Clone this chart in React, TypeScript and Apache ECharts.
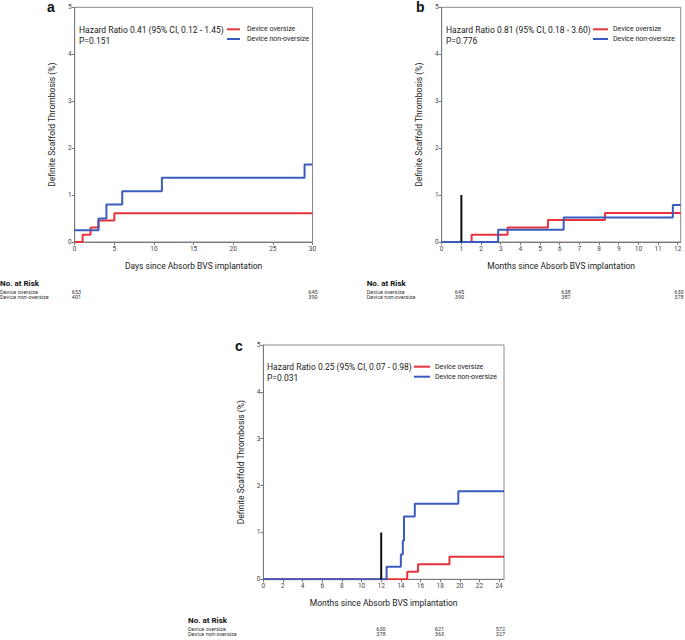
import React, { useEffect, useRef } from "react";
import * as echarts from "echarts";

// ---------- Data ----------
// Panel a (days 0-30)
const aOversizeT = [0, 1, 2, 3, 5, 30];
const aOversizeV = [0, 0.155, 0.31, 0.46, 0.61, 0.61];
const aNonT = [0, 3, 4, 6, 11, 29, 30];
const aNonV = [0.25, 0.5, 0.8, 1.08, 1.37, 1.65, 1.65];

// Panel b (months 0-12)
const bOversizeT = [0, 1.52, 3.35, 5.4, 8.3, 12.15];
const bOversizeV = [0, 0.155, 0.31, 0.47, 0.62, 0.62];
const bNonT = [0, 2.87, 6.2, 11.75, 12.15];
const bNonV = [0, 0.26, 0.52, 0.79, 0.79];
const bLandmark = [[1, 0], [1, 1]];

// Panel c (months 0-24)
const cOversizeT = [0, 14.65, 15.75, 18.95, 24.5];
const cOversizeV = [0, 0.16, 0.32, 0.48, 0.48];
const cNonT = [0, 12.55, 14.0, 14.2, 14.32, 15.42, 19.85, 24.5];
const cNonV = [0, 0.27, 0.53, 0.82, 1.34, 1.61, 1.88, 1.88];
const cLandmark = [[12, 0], [12, 1]];

// Ticks
const aXTicks = [0, 5, 10, 15, 20, 25, 30];
const bXTicks = [0, 1, 2, 3, 4, 5, 6, 7, 8, 9, 10, 11, 12];
const cXTicks = [0, 2, 4, 6, 8, 10, 12, 14, 16, 18, 20, 22, 24];
const yTicks = [0, 1, 2, 3, 4, 5];

// Annotations
const aHR = "Hazard Ratio 0.41 (95% CI, 0.12 - 1.45)";
const aP = "P=0.151";
const bHR = "Hazard Ratio 0.81 (95% CI, 0.18 - 3.60)";
const bP = "P=0.776";
const cHR = "Hazard Ratio 0.25 (95% CI, 0.07 - 0.98)";
const cP = "P=0.031";
const seriesNames = ["Device oversize", "Device non-oversize"];

// Risk tables
const aRiskOversize = [653, 645];
const aRiskNon = [401, 390];
const bRiskOversize = [645, 638, 630];
const bRiskNon = [390, 387, 378];
const cRiskOversize = [630, 621, 572];
const cRiskNon = [378, 363, 327];

const yName = "Definite Scaffold Thrombosis (%)";
const aXName = "Days since Absorb BVS implantation";
const bXName = "Months since Absorb BVS implantation";
const cXName = "Months since Absorb BVS implantation";

// ---------- Styling ----------
const RED = "#e8333c";
const BLUE = "#3a5cbf";
const FONT = "Roboto";
const AXIS_COLOR = "#7a7a7a";

const zip = (t: number[], v: number[]) => t.map((x, i) => [x, v[i]]);

export default function App() {
  const ref = useRef<HTMLDivElement>(null);
  useEffect(() => {
    if (!ref.current) return;
    const chart = echarts.init(ref.current, undefined, { renderer: "svg" });

    const grids = [
      { left: 74.7, top: 7.3, width: 237.8, height: 234.7 },
      { left: 441.7, top: 7.3, width: 239, height: 234.7 },
      { left: 263.3, top: 345, width: 240.7, height: 234.3 },
    ];
    const xMax = [30, 12.15, 24.5];
    const xTicks = [aXTicks, bXTicks, cXTicks];
    const xNames = [aXName, bXName, cXName];

    const xAxes = grids.map((_, i) => ({
      type: "value",
      gridIndex: i,
      min: 0,
      max: xMax[i],
      name: xNames[i],
      nameLocation: "middle",
      nameGap: 19,
      nameTextStyle: { fontFamily: FONT, fontSize: 8.5, color: "#1a1a1a" },
      axisLine: { show: true, lineStyle: { color: AXIS_COLOR, width: 1 } },
      axisTick: { show: true, length: 3, customValues: xTicks[i], lineStyle: { color: AXIS_COLOR } },
      axisLabel: { customValues: xTicks[i], fontFamily: FONT, fontSize: 6.5, color: "#444", margin: 3 },
      splitLine: { show: false },
    }));
    const yAxes = grids.map((_, i) => ({
      type: "value",
      gridIndex: i,
      min: 0,
      max: 5,
      interval: 1,
      name: yName,
      nameLocation: "middle",
      nameGap: 18,
      nameTextStyle: { fontFamily: FONT, fontSize: 8.5, color: "#1a1a1a" },
      axisLine: { show: true, lineStyle: { color: AXIS_COLOR, width: 1 } },
      axisTick: { show: true, length: 3, customValues: yTicks, lineStyle: { color: AXIS_COLOR } },
      axisLabel: { customValues: yTicks, fontFamily: FONT, fontSize: 6.5, color: "#444", margin: 3 },
      splitLine: { show: false },
    }));

    const step = (name: string, data: number[][], idx: number, color: string) => ({
      type: "line",
      name,
      xAxisIndex: idx,
      yAxisIndex: idx,
      data,
      step: "end",
      symbol: "none",
      showSymbol: false,
      lineStyle: { color, width: 2 },
      itemStyle: { color },
      z: 3,
    });
    const landmark = (data: number[][], idx: number) => ({
      type: "line",
      xAxisIndex: idx,
      yAxisIndex: idx,
      data,
      symbol: "none",
      lineStyle: { color: "#111", width: 2 },
      z: 4,
    });

    const series = [
      step(seriesNames[0], zip(aOversizeT, aOversizeV), 0, RED),
      step(seriesNames[1], zip(aNonT, aNonV), 0, BLUE),
      step(seriesNames[0], zip(bOversizeT, bOversizeV), 1, RED),
      step(seriesNames[1], zip(bNonT, bNonV), 1, BLUE),
      landmark(bLandmark, 1),
      step(seriesNames[0], zip(cOversizeT, cOversizeV), 2, RED),
      step(seriesNames[1], zip(cNonT, cNonV), 2, BLUE),
      landmark(cLandmark, 2),
    ];

    const txt = (text: string, x: number, y: number, size: number, opts: any = {}) => ({
      type: "text",
      x,
      y,
      silent: true,
      style: {
        text,
        fontFamily: opts.family || FONT,
        fontSize: size,
        fontWeight: opts.weight || "normal",
        fill: opts.fill || "#1a1a1a",
        align: opts.align || "left",
        verticalAlign: opts.valign || "middle",
      },
    });
    const seg = (x1: number, x2: number, y: number, color: string) => ({
      type: "line",
      silent: true,
      shape: { x1, y1: y, x2, y2: y },
      style: { stroke: color, lineWidth: 2 },
    });

    const panel = (
      letter: string,
      lx: number,
      ly: number,
      hr: string,
      p: string,
      hx: number,
      hy: number,
      py: number,
      legX1: number,
      legX2: number,
      legTx: number,
      legY1: number,
      legY2: number
    ) => [
      txt(letter, lx, ly, 14, { weight: "bold", family: "Liberation Sans", fill: "#111", valign: "top" }),
      txt(hr, hx, hy, 8.5),
      txt(p, hx, py, 8.5),
      seg(legX1, legX2, legY1, RED),
      seg(legX1, legX2, legY2, BLUE),
      txt(seriesNames[0], legTx, legY1, 7),
      txt(seriesNames[1], legTx, legY2, 7),
    ];

    const riskTable = (
      x: number,
      yHead: number,
      y1: number,
      y2: number,
      cols: number[],
      over: number[],
      non: number[]
    ) => {
      const els: any[] = [
        txt("No. at Risk", x, yHead, 8, { weight: "bold", fill: "#111" }),
        txt(seriesNames[0], x, y1, 5.5, { fill: "#333" }),
        txt(seriesNames[1], x, y2, 5.5, { fill: "#333" }),
      ];
      cols.forEach((cx, i) => {
        els.push(txt(String(over[i]), cx, y1, 5.5, { fill: "#333", align: "center" }));
        els.push(txt(String(non[i]), cx, y2, 5.5, { fill: "#333", align: "center" }));
      });
      return els;
    };

    const graphic = [
      ...panel("a", 47, 0, aHR, aP, 79, 29.5, 41, 227, 240, 247, 29.3, 39),
      ...panel("b", 416, 0, bHR, bP, 446, 29.5, 41, 593, 608, 613, 29.3, 39),
      ...panel("c", 235, 338.5, cHR, cP, 267, 366.7, 377.7, 414, 430, 435, 366.7, 376.7),
      ...riskTable(0, 283.3, 292, 296.8, [76.5, 313], aRiskOversize, aRiskNon),
      ...riskTable(366.7, 283.3, 292, 296.8, [459.5, 566, 679], bRiskOversize, bRiskNon),
      ...riskTable(188, 620.7, 629, 633.6, [381, 439.5, 500.5], cRiskOversize, cRiskNon),
    ];

    chart.setOption({
      animation: false,
      backgroundColor: "#fff",
      textStyle: { fontFamily: FONT },
      grid: grids.map((g) => ({
        ...g,
        show: true,
        borderColor: "#8a8a8a",
        borderWidth: 1,
        backgroundColor: "transparent",
        containLabel: false,
      })),
      xAxis: xAxes,
      yAxis: yAxes,
      series,
      graphic,
    });

    return () => chart.dispose();
  }, []);

  return (
    <div
      ref={ref}
      style={{ position: "absolute", left: 0, top: 0, width: 685, height: 640 }}
    />
  );
}
